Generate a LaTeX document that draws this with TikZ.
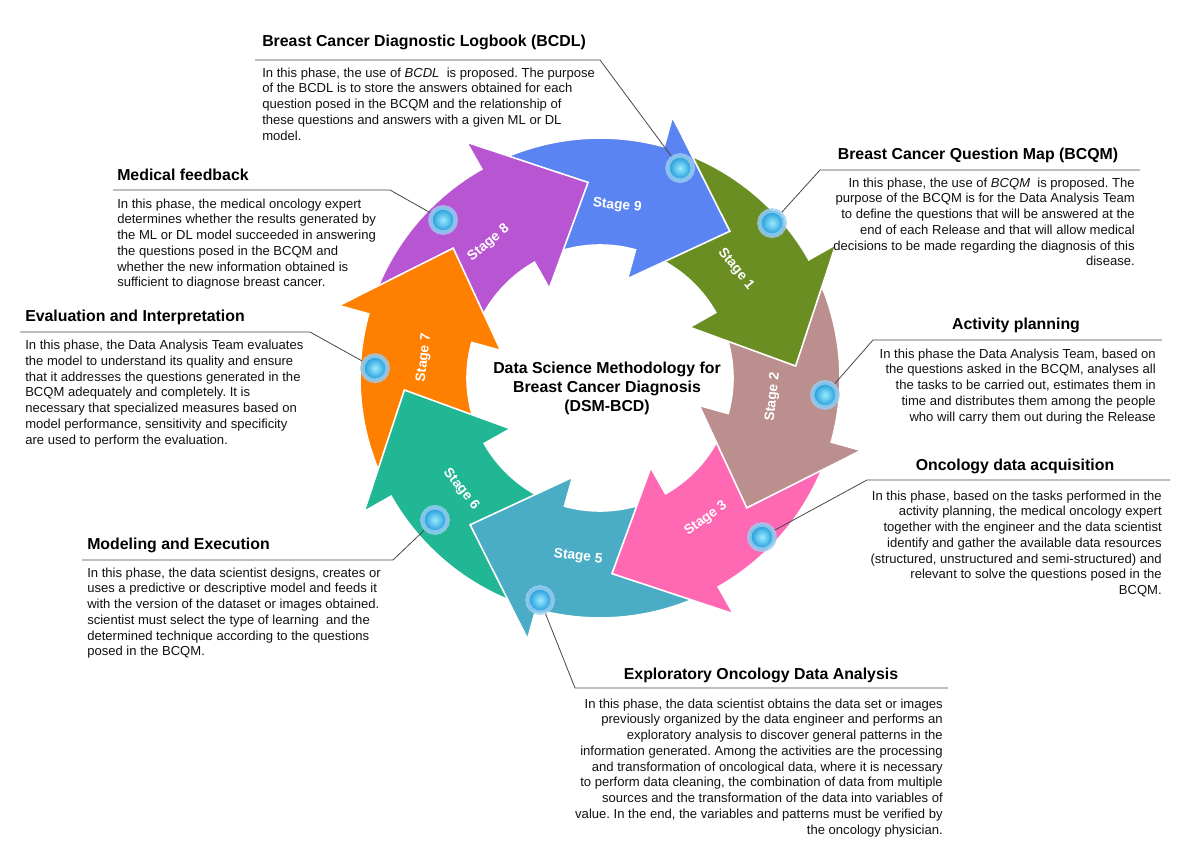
\documentclass[tikz,border=0pt]{standalone}
\usepackage{fontspec}
\setmainfont{Liberation Sans}
\usetikzlibrary{calc}
\frenchspacing
\definecolor{stagepurple}{HTML}{B855D3}
\definecolor{stageblue}{HTML}{5A84F2}
\definecolor{stageolive}{HTML}{6B8E23}
\definecolor{stagerose}{HTML}{BC8F8F}
\definecolor{stagepink}{HTML}{FF69B4}
\definecolor{stagecyan}{HTML}{4BACC6}
\definecolor{stageteal}{HTML}{21B794}
\definecolor{stageorange}{HTML}{FF8000}
\definecolor{halocolor}{HTML}{9CCFF2}
\definecolor{markerlight}{HTML}{9AEBFF}
\definecolor{markerdark}{HTML}{1592D6}
\definecolor{leadergray}{HTML}{474747}
\definecolor{bodytext}{HTML}{111111}

% one curved arrow of the ring, #1 = angle of its tip
\newcommand{\stagearrow}[2]{%
  \filldraw[arrowbody, fill=#2]
    (#1+74:240) arc[start angle=#1+74, end angle=#1+26, radius=240]
    -- (#1+26:271) -- (#1:196) -- (#1+26:103) -- (#1+26:133)
    arc[start angle=#1+26, end angle=#1+74, radius=133] -- cycle;}

\begin{document}
\begin{tikzpicture}[
    x=0.75pt, y=0.75pt,
    arrowbody/.style={draw=white, line width=1.2pt, line join=miter},
    stagelabel/.style={text=white, font=\fontsize{10.3}{12}\selectfont\bfseries, inner sep=0pt},
    marker/.style={circle, minimum size=19, inner sep=0pt, draw=halocolor, draw opacity=0.8,
        line width=3.4pt, inner color=markerlight, outer color=markerdark},
    phasetitle/.style={font=\fontsize{11.9}{14}\selectfont\bfseries, inner sep=0pt},
    phasetext/.style={font=\fontsize{9.8}{11.8}\selectfont, text=bodytext, inner sep=0pt},
    leader/.style={draw=leadergray, line width=0.6pt}
]
    \useasboundingbox (0,0) rectangle (1188,840);

    \begin{scope}[shift={(600,462)}]
        % ring of stage arrows, each head lies over the next tail
        \foreach \tip/\col in {138.5/stageorange, -176.5/stageteal, -131.5/stagecyan,
            -86.5/stagepink, -41.5/stagerose, 3.5/stageolive, 48.5/stageblue, 93.5/stagepurple}
            \stagearrow{\tip}{\col};
        \begin{scope}
            \clip (0,0) -- (173.5:330) arc[start angle=173.5, end angle=130.5, radius=330] -- cycle;
            \stagearrow{138.5}{stageorange}
        \end{scope}

        \node[stagelabel, rotate=84.3-90] (s9) at (84.3:173) {Stage 9};
        \node[stagelabel, rotate=38.7-90] (s1) at (38.7:174) {Stage 1};
        \node[stagelabel, rotate=-6.3+90] (s2) at (-6.3:174) {Stage 2};
        \node[stagelabel, rotate=-53+90] (s3) at (-53:176) {Stage 3};
        \node[stagelabel, rotate=-97+90] (s5) at (-97:180) {Stage 5};
        \node[stagelabel, rotate=-141.3+90] (s6) at (-141.3:178) {Stage 6};
        \node[stagelabel, rotate=173.5-90] (s7) at (173.5:177) {Stage 7};
        \node[stagelabel, rotate=129.5-90] (s8) at (129.5:175) {Stage 8};

        \node[marker] (m9) at (69.1:224.7) {};
        \node[marker] (m1) at (42.0:231.5) {};
        \node[marker] (m2) at (-4.3:225.6) {};
        \node[marker] (m3) at (-44.5:227) {};
        \node[marker] (m5) at (-105.1:230) {};
        \node[marker] (m6) at (-139.3:217.7) {};
        \node[marker] (m7) at (177.5:225.2) {};
        \node[marker] (m8) at (134.8:222.7) {};

        \node[align=center, font=\fontsize{11.9}{14.3}\selectfont\bfseries] (dsm) at (7,-10)
            {Data Science Methodology for\\Breast Cancer Diagnosis\\(DSM-BCD)};
    \end{scope}

    % Breast Cancer Diagnostic Logbook
    \node[phasetitle, anchor=west] (bcdl) at (262,798) {Breast Cancer Diagnostic Logbook (BCDL)};
    \node[phasetext, anchor=north west, align=left] (bcdltext) at (262,772.5) {%
        In this phase, the use of \textit{BCDL}\ \ is proposed. The purpose\\
        of the BCDL is to store the answers obtained for each\\
        question posed in the BCQM and the relationship of\\
        these questions and answers with a given ML or DL\\
        model.};
    \coordinate (bcdl-s) at (255,780);
    \coordinate (bcdl-e) at (600,780);
    \draw[leader] (m9) -- (bcdl-e) -- (bcdl-s);

    % Breast Cancer Question Map
    \node[phasetitle] (bcqm) at (978,685) {Breast Cancer Question Map (BCQM)};
    \node[phasetext, anchor=north east, align=right] (bcqmtext) at (1135,662.5) {%
        In this phase, the use of \textit{BCQM}\ \ is proposed. The\\
        purpose of the BCQM is for the Data Analysis Team\\
        to define the questions that will be answered at the\\
        end of each Release and that will allow medical\\
        decisions to be made regarding the diagnosis of this\\
        disease.};
    \coordinate (bcqm-s) at (820,670);
    \coordinate (bcqm-e) at (1140,670);
    \draw[leader] (m1) -- (bcqm-s) -- (bcqm-e);

    % Medical feedback
    \node[phasetitle, anchor=west] (medical) at (117,665) {Medical feedback};
    \node[phasetext, anchor=north west, align=left] (medicaltext) at (117,641.5) {%
        In this phase, the medical oncology expert\\
        determines whether the results generated by\\
        the ML or DL model succeeded in answering\\
        the questions posed in the BCQM and\\
        whether the new information obtained is\\
        sufficient to diagnose breast cancer.};
    \coordinate (medical-s) at (113,650);
    \coordinate (medical-e) at (390,650);
    \draw[leader] (m8) -- (medical-e) -- (medical-s);

    % Evaluation and Interpretation
    \node[phasetitle, anchor=west] (evaluation) at (25,523) {Evaluation and Interpretation};
    \node[phasetext, anchor=north west, align=left] (evaluationtext) at (25,500) {%
        In this phase, the Data Analysis Team evaluates\\
        the model to understand its quality and ensure\\
        that it addresses the questions generated in the\\
        BCQM adequately and completely. It is\\
        necessary that specialized measures based on\\
        model performance, sensitivity and specificity\\
        are used to perform the evaluation.};
    \coordinate (evaluation-s) at (20,508);
    \coordinate (evaluation-e) at (310,508);
    \draw[leader] (m7) -- (evaluation-e) -- (evaluation-s);

    % Activity planning
    \node[phasetitle] (activity) at (1016,515) {Activity planning};
    \node[phasetext, anchor=north east, align=right] (activitytext) at (1156,491.5) {%
        In this phase the Data Analysis Team, based on\\
        the questions asked in the BCQM, analyses all\\
        the tasks to be carried out, estimates them in\\
        time and distributes them among the people\\
        who will carry them out during the Release};
    \coordinate (activity-s) at (873,500);
    \coordinate (activity-e) at (1162,500);
    \draw[leader] (m2) -- (activity-s) -- (activity-e);

    % Oncology data acquisition
    \node[phasetitle] (acquisition) at (1015,374) {Oncology data acquisition};
    \node[phasetext, anchor=north east, align=right] (acquisitiontext) at (1162,349.5) {%
        In this phase, based on the tasks performed in the\\
        activity planning, the medical oncology expert\\
        together with the engineer and the data scientist\\
        identify and gather the available data resources\\
        (structured, unstructured and semi-structured) and\\
        relevant to solve the questions posed in the\\
        BCQM.};
    \coordinate (acquisition-s) at (867,360);
    \coordinate (acquisition-e) at (1170,360);
    \draw[leader] (m3) -- (acquisition-s) -- (acquisition-e);

    % Modeling and Execution
    \node[phasetitle, anchor=west] (modeling) at (87,295) {Modeling and Execution};
    \node[phasetext, anchor=north west, align=left] (modelingtext) at (87,272.5) {%
        In this phase, the data scientist designs, creates or\\
        uses a predictive or descriptive model and feeds it\\
        with the version of the dataset or images obtained.\\
        scientist must select the type of learning\ \ and the\\
        determined technique according to the questions\\
        posed in the BCQM.};
    \coordinate (modeling-s) at (82,280);
    \coordinate (modeling-e) at (393,280);
    \draw[leader] (m6) -- (modeling-e) -- (modeling-s);

    % Exploratory Oncology Data Analysis
    \node[phasetitle] (exploratory) at (761,165) {Exploratory Oncology Data Analysis};
    \node[phasetext, anchor=north east, align=right] (exploratorytext) at (943,141.5) {%
        In this phase, the data scientist obtains the data set or images\\
        previously organized by the data engineer and performs an\\
        exploratory analysis to discover general patterns in the\\
        information generated. Among the activities are the processing\\
        and transformation of oncological data, where it is necessary\\
        to perform data cleaning, the combination of data from multiple\\
        sources and the transformation of the data into variables of\\
        value. In the end, the variables and patterns must be verified by\\
        the oncology physician.};
    \coordinate (exploratory-s) at (575,152);
    \coordinate (exploratory-e) at (948,152);
    \draw[leader] (m5) -- (exploratory-s) -- (exploratory-e);
\end{tikzpicture}
\end{document}
